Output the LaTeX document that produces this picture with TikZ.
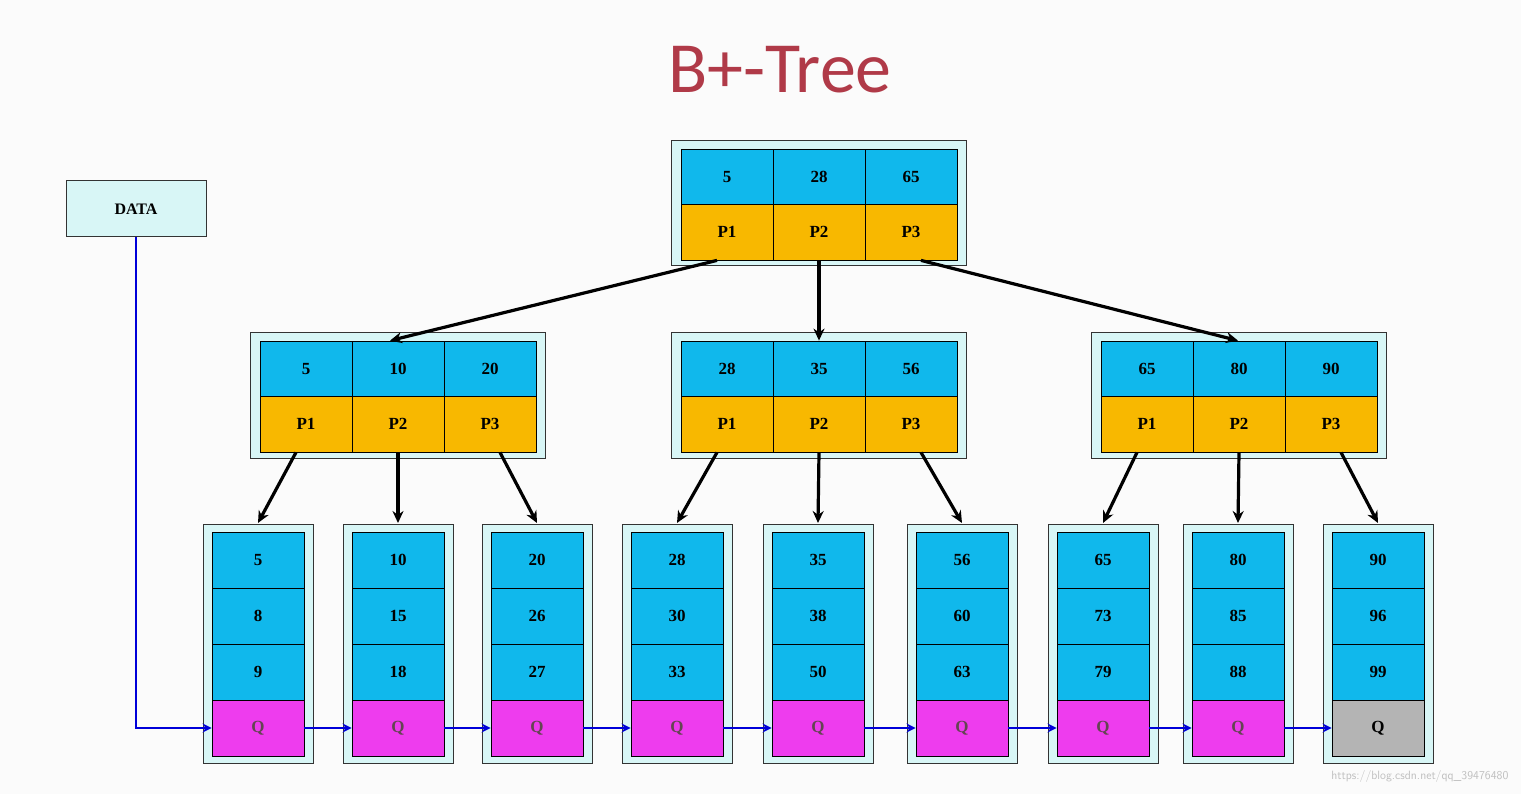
\documentclass[tikz,border=0pt]{standalone}
\usepackage{fontspec}
\newfontfamily\ttl{Carlito}
\newfontfamily\bsf{Liberation Serif}
\usetikzlibrary{arrows.meta}
\definecolor{kc}{HTML}{10B8EC}
\definecolor{pc}{HTML}{F8B800}
\definecolor{qc}{HTML}{EE3CEE}
\definecolor{gc}{HTML}{B4B4B4}
\definecolor{oc}{HTML}{D8F6F6}
\definecolor{tc}{HTML}{B03A48}
\begin{document}
\begin{tikzpicture}[x=1pt,y=-1pt,
  outer/.style={draw=black!80,fill=oc,line width=1pt},
  cell/.style={draw=black,line width=0.8pt,minimum width=92pt,minimum height=56pt,inner sep=0pt,font=\bsf\bfseries\fontsize{17}{17}\selectfont},
  icell/.style={cell,minimum width=92pt,minimum height=56pt},
  lcell/.style={cell,minimum width=92pt,minimum height=56pt},
  arr/.style={-{Stealth[length=12pt,width=11pt]},line width=3.2pt},
  larr/.style={-{Stealth[length=9pt,width=9pt]},line width=2.5pt,draw=blue!85!black}]
\useasboundingbox (0,0) rectangle (1521,794);
\fill[white!97!gray] (0,0) rectangle (1521,794);
\node[text=tc,font=\ttl\fontsize{72}{72}\selectfont] (title) at (780,70) {B+-Tree};
% internal nodes: name, left x, top y, keys
\foreach \nm/\lx/\ty/\a/\b/\c in {r/681/149/5/28/65, i1/260/341/5/10/20, i2/681/341/28/35/56, i3/1101/341/65/80/90}{
  \draw[outer] (\lx-10,\ty-8) rectangle (\lx+285,\ty+117);
  \foreach \k/\v/\p in {0/\a/P1,1/\b/P2,2/\c/P3}{
    \node[icell,fill=kc] (\nm k\k) at (\lx+46+92*\k,\ty+28) {\v};
    \node[icell,fill=pc] (\nm p\k) at (\lx+46+92*\k,\ty+83) {\p};
  }
}
% leaves
\foreach \n/\cx/\a/\b/\c in {1/258/5/8/9, 2/398/10/15/18, 3/537/20/26/27, 4/677/28/30/33, 5/818/35/38/50, 6/962/56/60/63, 7/1103/65/73/79, 8/1238/80/85/88, 9/1378/90/96/99}{
  \draw[outer] (\cx-55,524) rectangle (\cx+55,763);
  \node[lcell,fill=kc,minimum width=92pt] (l\n a) at (\cx,560) {\a};
  \node[lcell,fill=kc] (l\n b) at (\cx,616) {\b};
  \node[lcell,fill=kc] (l\n c) at (\cx,672) {\c};
  \coordinate (l\n top) at (\cx,523);
}
\foreach \n/\cx in {1/258,2/398,3/537,4/677,5/818,6/962,7/1103,8/1238}
  \node[lcell,fill=qc,text=black!70!magenta] (l\n q) at (\cx,728) {Q};
\node[lcell,fill=gc] (l9q) at (1378,728) {Q};
% tree arrows
\draw[arr] ([xshift=-10pt]rp0.south) -- ([xshift=-8pt]i1k1.north);
\draw[arr] (rp1.south) -- (i2k1.north);
\draw[arr] ([xshift=10pt]rp2.south) -- ([xshift=-1pt]i3k1.north);
\foreach \i/\j in {1/1,2/4,3/7}{
  \pgfmathtruncatemacro\jb{\j+1}\pgfmathtruncatemacro\jc{\j+2}
  \draw[arr] ([xshift=-10pt]i\i p0.south) -- (l\j top);
  \draw[arr] (i\i p1.south) -- (l\jb top);
  \draw[arr] ([xshift=10pt]i\i p2.south) -- (l\jc top);
}
% DATA
\node[draw=black!80,fill=oc,line width=1pt,minimum width=140pt,minimum height=56pt,font=\bsf\bfseries\fontsize{16}{16}\selectfont] (data) at (136,209) {DATA};
\coordinate (bend) at (136,728);
\draw[larr] (data.south) -- (bend) -- (l1q.west);
\foreach \a/\b in {1/2,2/3,3/4,4/5,5/6,6/7,7/8,8/9}
  \draw[larr] (l\a q.east) -- (l\b q.west);
\node[text=black!25,font=\sffamily\fontsize{12}{12}\selectfont,anchor=east] (wm) at (1512,776) {https://blog.csdn.net/qq\_39476480};
\end{tikzpicture}
\end{document}
